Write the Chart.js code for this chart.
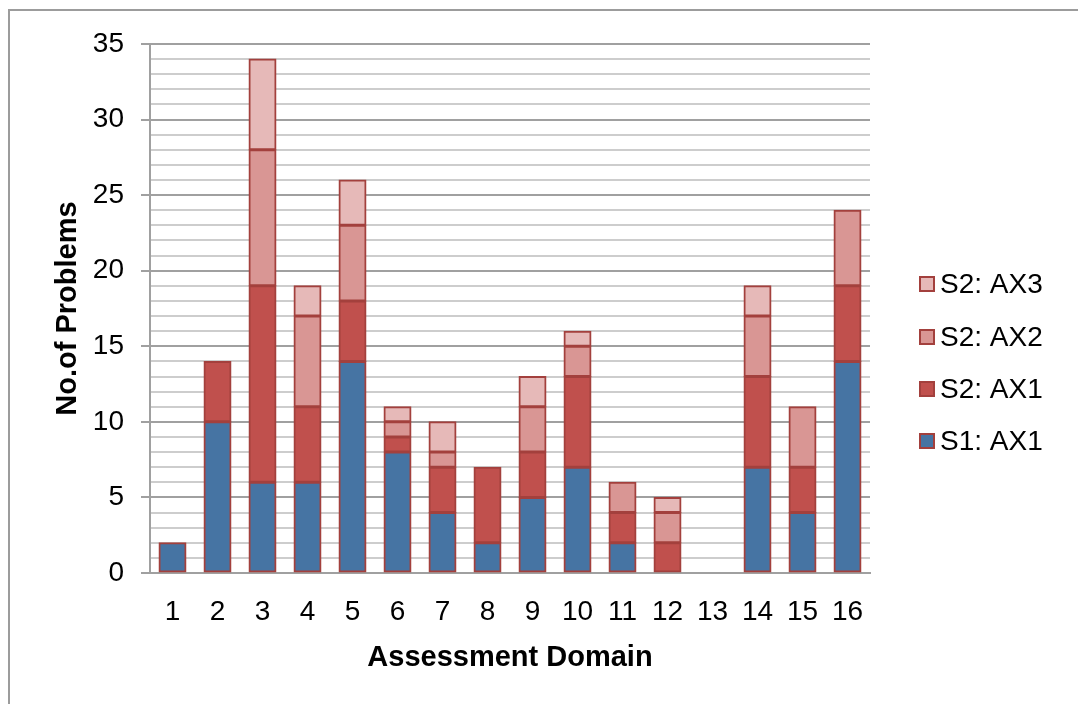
<!DOCTYPE html>
<html>
<head>
<meta charset="utf-8">
<script src="https://cdn.jsdelivr.net/npm/chart.js@4/dist/chart.umd.min.js"></script>
<style>
html,body{margin:0;padding:0;background:#fff;}
#wrap{position:relative;width:1078px;height:704px;}
#frame{position:absolute;left:8px;top:9px;width:1100px;height:720px;border:2px solid #9c9c9c;box-sizing:border-box;}
canvas{position:absolute;left:0;top:0;}
</style>
</head>
<body>
<div id="wrap"><div id="frame"></div><canvas id="c" width="1078" height="704"></canvas></div>
<script>
const categories = ['1','2','3','4','5','6','7','8','9','10','11','12','13','14','15','16'];
const s1ax1 = [2,10,6,6,14,8,4,2,5,7,2,null,null,7,4,14];
const s2ax1 = [null,4,13,5,4,1,3,5,3,6,2,2,null,6,3,5];
const s2ax2 = [null,null,9,6,5,1,1,null,3,2,2,2,null,4,4,5];
const s2ax3 = [null,null,6,2,3,1,2,null,2,1,null,1,null,2,null,null];
const seriesLabels = ['S1: AX1','S2: AX1','S2: AX2','S2: AX3'];
const yTickLabels = ['0','5','10','15','20','25','30','35'];

const FONT = '"Liberation Sans", Arial, sans-serif';
const fills = ['#4674a3','#c0504d','#d99694','#e6b9b8'];
const edge = '#a3403d';

const legendPlugin = {
  id: 'customLegend',
  afterDraw(chart) {
    const ctx = chart.ctx;
    const ys = [441, 389, 337, 284];
    ctx.save();
    chart.data.datasets.forEach((ds, i) => {
      const y = ys[i];
      ctx.fillStyle = ds.backgroundColor;
      ctx.fillRect(920, y - 7, 14, 14);
      ctx.strokeStyle = edge;
      ctx.lineWidth = 2;
      ctx.strokeRect(920, y - 7, 14, 14);
      ctx.fillStyle = '#000';
      ctx.font = '28px ' + FONT;
      ctx.textBaseline = 'middle';
      ctx.textAlign = 'left';
      ctx.fillText(ds.label, 940, y + 1);
    });
    ctx.restore();
  }
};

const datasets = [s1ax1, s2ax1, s2ax2, s2ax3].map((d, i) => ({
  label: seriesLabels[i],
  data: d,
  backgroundColor: fills[i],
  borderColor: edge,
  borderWidth: 2,
  borderSkipped: false,
  inflateAmount: 0.5,
  barPercentage: 0.6,
  categoryPercentage: 1.0
}));

new Chart(document.getElementById('c'), {
  type: 'bar',
  data: { labels: categories, datasets },
  plugins: [legendPlugin],
  options: {
    responsive: false,
    animation: false,
    layout: { padding: { left: 20, right: 208, top: 44, bottom: 0 } },
    plugins: { legend: { display: false }, tooltip: { enabled: false } },
    scales: {
      x: {
        stacked: true,
        grid: { display: false, drawTicks: false },
        border: { display: true, color: '#a0a0a0', width: 2 },
        ticks: { color: '#000', font: { family: FONT, size: 28 }, padding: 22, maxRotation: 0, autoSkip: false },
        title: { display: true, text: 'Assessment Domain', color: '#000', font: { family: FONT, size: 29, weight: 'bold' }, padding: { top: 0, bottom: 29 } },
        afterFit(s) { s.height = 131; }
      },
      y: {
        stacked: true,
        min: 0, max: 35,
        ticks: {
          stepSize: 1,
          autoSkip: false,
          color: '#000',
          font: { family: FONT, size: 28 },
          padding: 17,
          callback: v => (v % 5 === 0 ? yTickLabels[v / 5] : '')
        },
        grid: {
          color: c => (c.tick && c.tick.value % 5 === 0 ? '#a0a0a0' : '#cdcdcd'),
          lineWidth: 2,
          tickLength: 9,
          tickColor: c => (c.tick && c.tick.value % 5 === 0 ? '#a0a0a0' : 'rgba(0,0,0,0)')
        },
        border: { display: true, color: '#a0a0a0', width: 2 },
        title: { display: true, text: 'No.of Problems', color: '#000', font: { family: FONT, size: 29, weight: 'bold' }, padding: { top: 31, bottom: 0 } },
        afterFit(s) { s.width = 130; }
      }
    }
  }
});
</script>
</body>
</html>
